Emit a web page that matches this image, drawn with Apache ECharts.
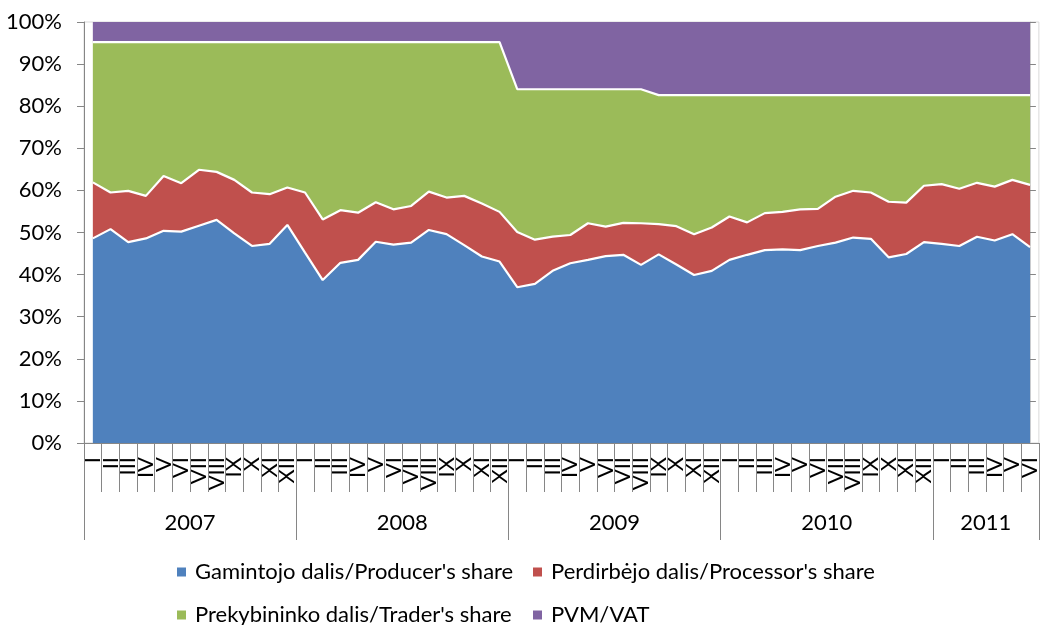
<!DOCTYPE html>
<html>
<head>
<meta charset="utf-8">
<script src="https://cdn.jsdelivr.net/npm/echarts@6/dist/echarts.min.js"></script>
<style>
  html, body { margin: 0; padding: 0; background: #fff; }
  #chart { width: 1041px; height: 625px; }
</style>
</head>
<body>
<div id="chart"></div>
<script>
// ---- data ----
const monthNames = ['I','II','III','IV','V','VI','VII','VIII','IX','X','XI','XII'];
const yearNames = ['2007','2008','2009','2010','2011'];
const monthsPerYear = [12, 12, 12, 12, 6];

const seriesNames = [
  "Gamintojo dalis/Producer's share",
  "Perdirbėjo dalis/Processor's share",
  "Prekybininko dalis/Trader's share",
  "PVM/VAT"
];

const producer = [
  48.6, 50.8, 47.7, 48.6, 50.4, 50.2, 51.6, 53.0, 49.8, 46.8, 47.3, 51.8,
  45.2, 38.7, 42.8, 43.5, 47.8, 47.1, 47.6, 50.6, 49.6, 47.0, 44.3, 43.1,
  37.0, 37.8, 40.9, 42.7, 43.5, 44.4, 44.7, 42.3, 44.8, 42.4, 39.9, 40.9,
  43.5, 44.7, 45.8, 46.0, 45.8, 46.8, 47.6, 48.8, 48.5, 44.1, 44.9, 47.7,
  47.3, 46.8, 49.0, 48.1, 49.6, 46.5
];
const processor = [
  13.3, 8.7, 12.2, 10.1, 13.0, 11.5, 13.3, 11.4, 12.7, 12.7, 11.8, 8.9,
  14.3, 14.4, 12.5, 11.2, 9.4, 8.4, 8.7, 9.1, 8.7, 11.7, 12.6, 11.8,
  13.1, 10.5, 8.1, 6.7, 8.7, 7.0, 7.6, 9.9, 7.2, 9.1, 9.7, 10.3,
  10.3, 7.7, 8.8, 8.9, 9.7, 8.8, 10.9, 11.1, 11.0, 13.2, 12.2, 13.4,
  14.2, 13.6, 12.8, 12.8, 12.9, 14.8
];
const trader = [
  33.34, 35.74, 35.34, 36.54, 31.84, 33.54, 30.34, 30.84, 32.74, 35.74, 36.14, 34.54,
  35.74, 42.14, 39.94, 40.54, 38.04, 39.74, 38.94, 35.54, 36.94, 36.54, 38.34, 40.34,
  33.93, 35.73, 35.03, 34.63, 31.83, 32.63, 31.73, 31.83, 30.64, 31.14, 33.04, 31.44,
  28.84, 30.24, 28.04, 27.74, 27.14, 27.04, 24.14, 22.74, 23.14, 25.34, 25.54, 21.54,
  21.14, 22.24, 20.84, 21.74, 20.14, 21.34
];
const vat = [
  4.76, 4.76, 4.76, 4.76, 4.76, 4.76, 4.76, 4.76, 4.76, 4.76, 4.76, 4.76,
  4.76, 4.76, 4.76, 4.76, 4.76, 4.76, 4.76, 4.76, 4.76, 4.76, 4.76, 4.76,
  15.97, 15.97, 15.97, 15.97, 15.97, 15.97, 15.97, 15.97, 17.36, 17.36, 17.36, 17.36,
  17.36, 17.36, 17.36, 17.36, 17.36, 17.36, 17.36, 17.36, 17.36, 17.36, 17.36, 17.36,
  17.36, 17.36, 17.36, 17.36, 17.36, 17.36
];
const yTicks = [0, 10, 20, 30, 40, 50, 60, 70, 80, 90, 100];

const colors = ['#4F81BD', '#C0504D', '#9BBB59', '#8064A2'];

// ---- derived axis tables ----
const categories = [];
const yearBounds = [0];
const yearCenters = [];
let acc = 0;
monthsPerYear.forEach(function (n) {
  for (let k = 0; k < n; k++) categories.push(monthNames[k]);
  yearCenters.push(acc + n / 2);
  acc += n;
  yearBounds.push(acc);
});
const totalMonths = acc;

const FONT = 'Lato';
const FS = 22;
const AXIS_GRAY = '#868686';

const chart = echarts.init(document.getElementById('chart'), null, { renderer: 'canvas' });

const dataSets = [producer, processor, trader, vat];
const series = dataSets.map(function (d, i) {
  return {
    name: seriesNames[i],
    type: 'line',
    stack: 'total',
    data: d,
    symbol: 'none',
    silent: true,
    animation: false,
    lineStyle: { color: '#ffffff', width: i === 3 ? 0 : 2.2 },
    areaStyle: { color: colors[i], opacity: 1 },
    itemStyle: { color: colors[i] }
  };
});

function legendFor(i, left, top) {
  return {
    data: [seriesNames[i]],
    left: left,
    top: top,
    padding: 0,
    orient: 'horizontal',
    icon: 'rect',
    itemWidth: 9,
    itemHeight: 9,
    selectedMode: false,
    textStyle: { fontFamily: FONT, fontSize: FS, color: '#000', lineHeight: 26, padding: [0, 0, 0, 4] }
  };
}

const option = {
  animation: false,
  color: colors,
  grid: {
    left: 84, right: -3, top: 22, bottom: 182,
    show: true, borderColor: '#d9d9d9', borderWidth: 1, backgroundColor: 'transparent'
  },
  legend: [
    legendFor(0, 177, 559),
    legendFor(1, 533, 559),
    legendFor(2, 177, 602),
    legendFor(3, 533, 602)
  ],
  xAxis: [
    {
      type: 'category',
      data: categories,
      boundaryGap: true,
      position: 'bottom',
      axisLine: { show: true, lineStyle: { color: AXIS_GRAY, width: 1 } },
      axisTick: { show: true, interval: 0, length: 49, lineStyle: { color: AXIS_GRAY, width: 1 } },
      axisLabel: {
        interval: 0, rotate: 90, margin: 14,
        fontFamily: FONT, fontSize: FS, color: '#000'
      },
      splitLine: { show: false }
    },
    {
      type: 'value',
      min: 0,
      max: totalMonths,
      position: 'bottom',
      axisLine: { show: false },
      axisTick: {
        show: true, length: 97, customValues: yearBounds,
        lineStyle: { color: AXIS_GRAY, width: 1 }
      },
      axisLabel: {
        show: true, customValues: yearCenters, margin: 69,
        fontFamily: FONT, fontSize: FS, color: '#000',
        formatter: function (v) {
          const idx = yearCenters.indexOf(v);
          return idx >= 0 ? yearNames[idx] : '';
        }
      },
      splitLine: { show: false }
    }
  ],
  yAxis: [
    {
      type: 'value',
      min: yTicks[0],
      max: yTicks[yTicks.length - 1],
      interval: 10,
      position: 'left',
      axisLine: { show: true, lineStyle: { color: AXIS_GRAY, width: 1 } },
      axisTick: { show: true, length: 7, lineStyle: { color: AXIS_GRAY, width: 1 } },
      axisLabel: {
        margin: 22, fontFamily: FONT, fontSize: FS, color: '#000',
        formatter: '{value}%'
      },
      splitLine: { show: false }
    },
    {
      type: 'value',
      min: yTicks[0],
      max: yTicks[yTicks.length - 1],
      interval: 10,
      position: 'right',
      offset: -9,
      axisLine: { show: true, lineStyle: { color: '#d0d0d0', width: 1 } },
      axisTick: { show: true, length: 6, lineStyle: { color: AXIS_GRAY, width: 1 } },
      axisLabel: { show: false },
      splitLine: { show: false }
    }
  ],
  series: series
};

chart.setOption(option);
</script>
</body>
</html>
